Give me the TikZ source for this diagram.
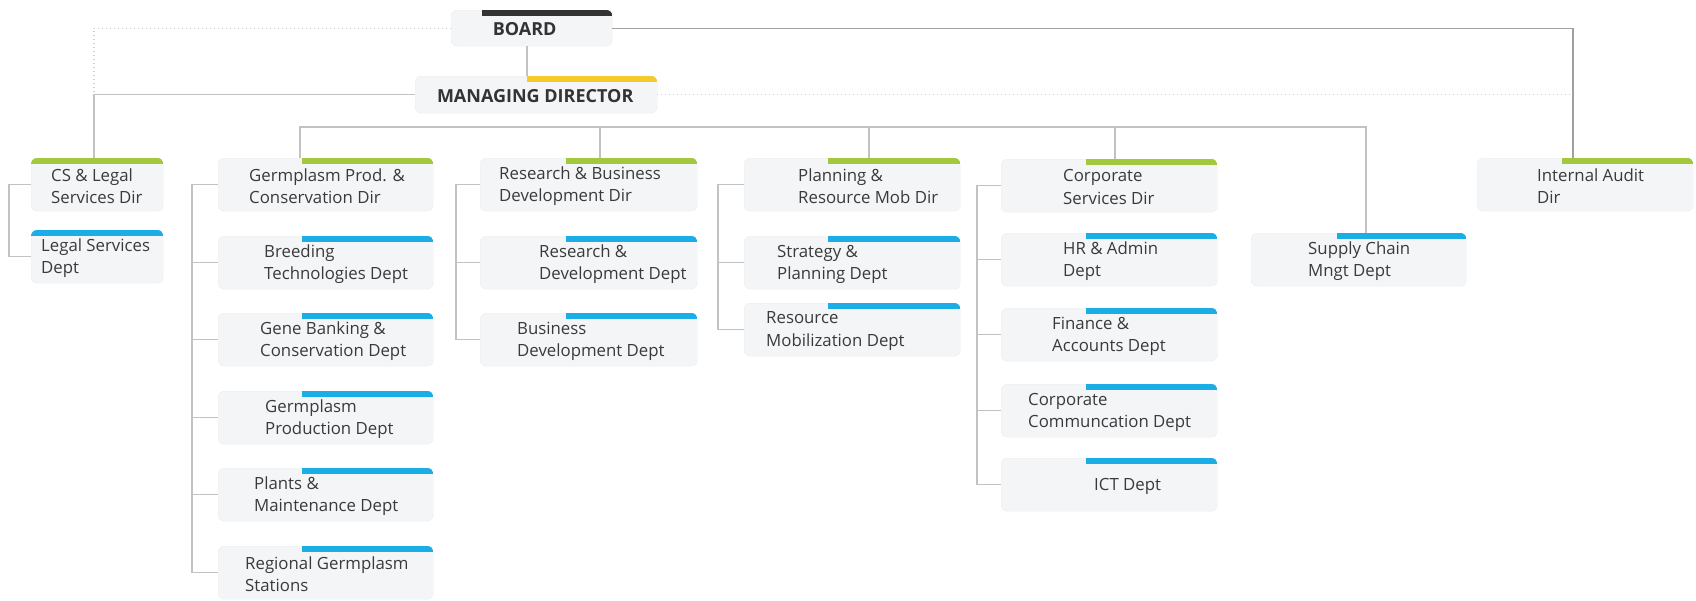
\documentclass[tikz,border=0pt]{standalone}
\usepackage{fontspec}
\setmainfont{Open Sans}
\definecolor{boxfill}{HTML}{F4F5F6}
\definecolor{boxedge}{HTML}{ECEDEE}
\definecolor{txt}{HTML}{3A3A3A}
\definecolor{ttltxt}{HTML}{333333}
\definecolor{linegray}{HTML}{C2C2C2}
\definecolor{linedark}{HTML}{A0A0A0}
\definecolor{dotgray}{HTML}{CFCFCF}
\definecolor{bargreen}{HTML}{A2C83E}
\definecolor{barblue}{HTML}{1BAEE6}
\definecolor{baryellow}{HTML}{F5CB2B}
\definecolor{bardark}{HTML}{333333}

% #1 name, #2 left, #3 top, #4 width, #5 bar start, #6 bar colour, #7 text indent, #8 text
\newcommand\orgunit[8]{%
  \node[box, minimum width=#4pt] (#1) at (#2,#3) {};
  \begin{scope}
    \clip[rounded corners=6pt] (#1.north west) rectangle (#1.south east);
    \fill[#6] (#5,#3-2) rectangle ([yshift=-5.5pt]#1.north east);
  \end{scope}
  \node[lbl] (#1t) at ([xshift=#7pt,yshift=-1.5pt]#1.west) {#8};
}

\begin{document}
\begin{tikzpicture}[x=1pt,y=-1pt,
  box/.style={draw=boxedge, fill=boxfill, rounded corners=6pt, anchor=north west,
              inner sep=0pt, minimum height=53pt},
  lbl/.style={anchor=west, align=left, text=txt, inner sep=0pt,
              font=\fontsize{16.8}{22.5}\selectfont},
  ttl/.style={text=ttltxt, inner sep=0pt, font=\fontsize{18}{20}\selectfont\bfseries},
  conn/.style={draw=linegray, line width=1.2pt},
  conndark/.style={draw=linedark, line width=1.2pt},
  dots/.style={draw=dotgray, line width=1.1pt, dash pattern=on 1pt off 3pt}]

\useasboundingbox (0,0) rectangle (1696,600);

% helper positions for the vertical runs
\coordinate (xbm) at (527,0);
\coordinate (xau) at (1573,0);
\coordinate (xcs) at (94,0);
\coordinate (xg) at (300,0);
\coordinate (xr) at (600,0);
\coordinate (xp) at (869,0);
\coordinate (xc) at (1115,0);
\coordinate (xs) at (1366,0);
\coordinate (busy) at (0,127);
\coordinate (sx1) at (9,0);
\coordinate (sx2) at (192,0);
\coordinate (sx3) at (456,0);
\coordinate (sx4) at (718,0);
\coordinate (sx5) at (977,0);
\coordinate (dl) at (94,92);

% Board and Managing Director boxes
\node[box, minimum width=161pt, minimum height=36pt] (board) at (451,10) {};
\node[box, minimum width=242pt, minimum height=37pt] (md) at (415,76) {};

% directorates and departments
\orgunit{cs}{31}{158}{132}{31}{bargreen}{20}{CS \& Legal\\Services Dir}
\orgunit{legal}{31}{230}{132}{31}{barblue}{10}{Legal Services\\Dept}

\orgunit{gpd}{218}{158}{215}{302}{bargreen}{31}{Germplasm Prod. \&\\Conservation Dir}
\orgunit{bt}{218}{236}{215}{302}{barblue}{46}{Breeding\\Technologies Dept}
\orgunit{gb}{218}{313}{215}{302}{barblue}{42}{Gene Banking \&\\Conservation Dept}
\orgunit{gp}{218}{391}{215}{302}{barblue}{47}{Germplasm\\Production Dept}
\orgunit{pm}{218}{468}{215}{302}{barblue}{36}{Plants \&\\Maintenance Dept}
\orgunit{rg}{218}{546}{215}{302}{barblue}{27}{Regional Germplasm\\Stations}

\orgunit{rbd}{480}{158}{217}{566}{bargreen}{19}{Research \& Business\\Development Dir}
\orgunit{rd}{480}{236}{217}{566}{barblue}{59}{Research \&\\Development Dept}
\orgunit{bd}{480}{313}{217}{566}{barblue}{37}{Business\\Development Dept}

\orgunit{prm}{744}{158}{216}{828}{bargreen}{54}{Planning \&\\Resource Mob Dir}
\orgunit{sp}{744}{236}{216}{828}{barblue}{33}{Strategy \&\\Planning Dept}
\orgunit{rm}{744}{303}{216}{828}{barblue}{22}{Resource\\Mobilization Dept}

\orgunit{csd}{1001}{159}{216}{1086}{bargreen}{62}{Corporate\\Services Dir}
\orgunit{hr}{1001}{233}{216}{1086}{barblue}{62}{HR \& Admin\\Dept}
\orgunit{fa}{1001}{308}{216}{1086}{barblue}{51}{Finance \&\\Accounts Dept}
\orgunit{cc}{1001}{384}{216}{1086}{barblue}{27}{Corporate\\Communcation Dept}
\orgunit{ict}{1001}{458}{216}{1086}{barblue}{93}{ICT Dept}

\orgunit{scm}{1251}{233}{215}{1337}{barblue}{57}{Supply Chain\\Mngt Dept}
\orgunit{audit}{1477}{158}{216}{1562}{bargreen}{60}{Internal Audit\\Dir}

% Board to Managing Director and Internal Audit
\draw[conn] (board.south -| xbm) -- (md.north -| xbm);
\draw[conndark] (board.east) -| (audit.north -| xau);
\draw[dots] (board.west) -| (dl);
\draw[dots] (md.east) -- (md.east -| xau);
\draw[conn] (md.west) -| (cs.north -| xcs);

% bus to the directorates
\draw[conn] (gpd.north -| xg) -- (busy -| xg) -- (busy -| xs) -- (scm.north -| xs);
\draw[conn] (busy -| xr) -- (rbd.north -| xr);
\draw[conn] (busy -| xp) -- (prm.north -| xp);
\draw[conn] (busy -| xc) -- (csd.north -| xc);

% side rails from each directorate to its departments
\draw[conn] (cs.west) -- (cs.west -| sx1) |- (legal.west);
\foreach \d in {bt,gb,gp,pm,rg}
  \draw[conn] (gpd.west) -- (gpd.west -| sx2) |- (\d.west);
\foreach \d in {rd,bd}
  \draw[conn] (rbd.west) -- (rbd.west -| sx3) |- (\d.west);
\foreach \d in {sp,rm}
  \draw[conn] (prm.west) -- (prm.west -| sx4) |- (\d.west);
\foreach \d in {hr,fa,cc,ict}
  \draw[conn] (csd.west) -- (csd.west -| sx5) |- (\d.west);

% Board and Managing Director bars and titles
\begin{scope}
  \clip[rounded corners=6pt] (board.north west) rectangle (board.south east);
  \fill[bardark] (482,8) rectangle ([yshift=-5.5pt]board.north east);
\end{scope}
\node[ttl] (boardt) at ([xshift=-7pt,yshift=-1pt]board.center) {BOARD};
\begin{scope}
  \clip[rounded corners=6pt] (md.north west) rectangle (md.south east);
  \fill[baryellow] (527,74) rectangle ([yshift=-5.5pt]md.north east);
\end{scope}
\node[ttl] (mdt) at ([xshift=-1pt,yshift=-1pt]md.center) {MANAGING DIRECTOR};
\end{tikzpicture}
\end{document}
